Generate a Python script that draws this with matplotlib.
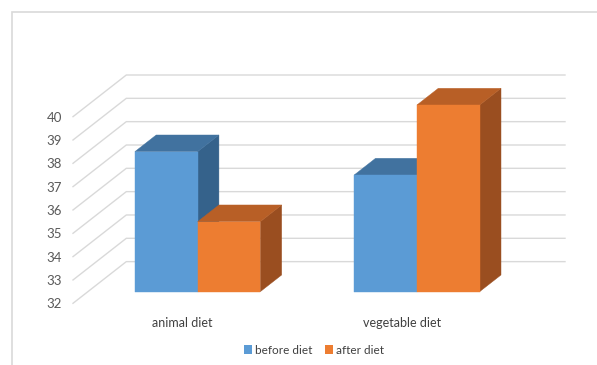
import matplotlib
matplotlib.use("Agg")
import matplotlib.pyplot as plt
from matplotlib.patches import Polygon, Rectangle

# Data
categories = ["animal diet", "vegetable diet"]
series_names = ["before diet", "after diet"]
before_diet = [38, 37]
after_diet = [35, 40]
y_ticks = [32, 33, 34, 35, 36, 37, 38, 39, 40]

values = [before_diet, after_diet]

# Excel-like 3D colours: front, top, side
face_colors = {
    "before diet": ("#5b9bd5", "#41729f", "#35628b"),
    "after diet": ("#ed7d31", "#b85f26", "#9a4e20"),
}

# Oblique projection (offset in data units for the full depth of the plot)
DX, DY = 0.243, 1.786
BASE = 32
Z0, Z1 = 0.28, 0.68
BAR_W = 0.286


def proj(x, v, z):
    return (x + z * DX, v + z * DY)


plt.rcParams["font.family"] = ["Lato", "DejaVu Sans"]

fig = plt.figure(figsize=(5.97, 3.65), dpi=100)
fig.add_artist(Rectangle((11.5 / 597, -0.1), 1.2, (365 - 11.5) / 365 + 0.1,
                         transform=fig.transFigure, fill=False,
                         edgecolor="#d9d9d9", lw=1.2))

ax = fig.add_axes([73 / 597, 61.7 / 365, (565 - 73) / 597, (290 - 61.7) / 365])
ax.set_xlim(0, 2 + DX)
ax.set_ylim(BASE, y_ticks[-1] + DY)
for s in ax.spines.values():
    s.set_visible(False)

# gridlines: diagonal on the left wall, horizontal on the back wall
for v in y_ticks:
    xs = [0, DX, 2 + DX]
    ys = [v, v + DY, v + DY]
    ax.plot(xs, ys, color="#d9d9d9", lw=1.0, zorder=1, clip_on=False)

# bars
for i, cat in enumerate(categories):
    c = i + 0.5
    for j, name in enumerate(series_names):
        v = values[j][i]
        x0 = c - BAR_W + j * BAR_W
        x1 = x0 + BAR_W
        front_c, top_c, side_c = face_colors[name]
        front = [proj(x0, BASE, Z0), proj(x1, BASE, Z0), proj(x1, v, Z0), proj(x0, v, Z0)]
        top = [proj(x0, v, Z0), proj(x1, v, Z0), proj(x1, v, Z1), proj(x0, v, Z1)]
        side = [proj(x1, BASE, Z0), proj(x1, BASE, Z1), proj(x1, v, Z1), proj(x1, v, Z0)]
        zb = 2 + i * 2 + j
        for poly, col in ((side, side_c), (top, top_c), (front, front_c)):
            ax.add_patch(Polygon(poly, closed=True, facecolor=col, edgecolor=col,
                                 lw=0.3, zorder=zb, clip_on=False))

ax.set_yticks(y_ticks)
ax.set_yticklabels([str(t) for t in y_ticks])
ax.set_xticks([0.5, 1.5])
ax.set_xticklabels(categories)
ax.tick_params(axis="y", length=0, pad=8, labelsize=9.5, labelcolor="#595959")
ax.tick_params(axis="x", length=0, pad=10, labelsize=9, labelcolor="#404040")

handles = [Rectangle((0, 0), 1, 1, facecolor=face_colors[n][0]) for n in series_names]
fig.legend(handles, series_names, loc="center", bbox_to_anchor=(314 / 597, 1 - 350 / 365),
           ncol=2, frameon=False, fontsize=8.5, handlelength=0.7, handleheight=0.7,
           handletextpad=0.3, columnspacing=1.0, labelcolor="#404040")

fig.savefig("out.png", dpi=100)
